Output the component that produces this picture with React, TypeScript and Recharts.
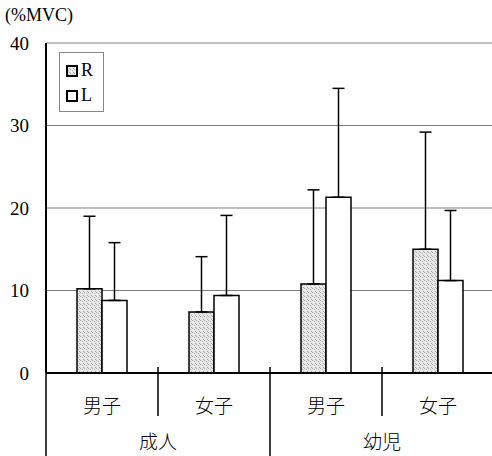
import React from 'react';
import { BarChart, Bar, XAxis, YAxis, CartesianGrid, ErrorBar } from 'recharts';

const categories = ['男子', '女子', '男子', '女子'];
const groups = ['成人', '成人', '幼児', '幼児'];
const rValues = [10.2, 7.4, 10.8, 15.0];
const lValues = [8.8, 9.4, 21.3, 11.2];
const rErrors = [8.8, 6.7, 11.4, 14.2];
const lErrors = [7.0, 9.7, 13.2, 8.5];
const yTicks = [0, 10, 20, 30, 40];
const seriesNames = ['R', 'L'];

const data = categories.map((name, i) => ({
  name: `${groups[i]}-${name}-${i}`,
  label: name,
  group: groups[i],
  R: rValues[i],
  L: lValues[i],
  rErr: [0, rErrors[i]],
  lErr: [0, lErrors[i]],
}));

const SERIF = 'Liberation Serif';
const CJK = 'Noto Sans CJK JP';

const CategoryTick = (props: any) => {
  const { x, y, payload, index } = props;
  const half = payload && payload.offset ? payload.offset : 55.9;
  const row = data[index];
  const lines = [];
  if (index === 0) {
    lines.push(<line key="l0" x1={x - half} y1={y} x2={x - half} y2={y + 84} stroke="#000" strokeWidth={1.5} />);
  }
  if (index % 2 === 0) {
    lines.push(<line key="s" x1={x + half} y1={y - 6} x2={x + half} y2={y + 43} stroke="#000" strokeWidth={1.5} />);
  } else if (index < data.length - 1) {
    lines.push(<line key="g" x1={x + half} y1={y - 6} x2={x + half} y2={y + 84} stroke="#000" strokeWidth={1.5} />);
  }
  return (
    <g>
      {lines}
      <text x={x} y={y + 31} textAnchor="middle" dominantBaseline="central" fontSize={19} fontFamily={CJK} fontWeight={300} fill="#000">
        {row.label}
      </text>
      {index % 2 === 0 && (
        <text x={x + half} y={y + 67} textAnchor="middle" dominantBaseline="central" fontSize={19} fontFamily={CJK} fontWeight={300} fill="#000">
          {row.group}
        </text>
      )}
    </g>
  );
};

const LegendBox = () => (
  <div
    style={{
      position: 'absolute',
      left: 59,
      top: 52,
      width: 45,
      height: 60,
      border: '1px solid #888',
      background: '#fff',
      fontFamily: SERIF,
      fontSize: 18,
      color: '#000',
      boxSizing: 'border-box',
      paddingLeft: 6,
      paddingTop: 5,
    }}
  >
    {seriesNames.map((name) => (
      <div key={name} style={{ display: 'flex', alignItems: 'center', height: 25 }}>
        <svg width={12} height={12} style={{ marginRight: 3 }}>
          <rect x={1} y={1} width={10} height={10} fill={name === 'R' ? 'url(#dots)' : '#fff'} stroke="#000" strokeWidth={2} />
        </svg>
        <span>{name}</span>
      </div>
    ))}
  </div>
);

const App: React.FC = () => {
  return (
    <div style={{ position: 'absolute', left: 0, top: 0, width: 492, height: 456, overflow: 'hidden', background: '#fff' }}>
      <svg width={0} height={0} style={{ position: 'absolute' }}>
        <defs>
          <pattern id="dots" width={4} height={4} patternUnits="userSpaceOnUse">
            <rect width={4} height={4} fill="#e6e6e6" />
            <rect x={0} y={0} width={1} height={1} fill="#a8a8a8" />
            <rect x={2} y={1} width={1} height={1} fill="#b4b4b4" />
            <rect x={1} y={2} width={1} height={1} fill="#fafafa" />
            <rect x={3} y={3} width={1} height={1} fill="#a8a8a8" />
          </pattern>
        </defs>
      </svg>
      <div style={{ position: 'absolute', left: 5, top: 5, fontFamily: SERIF, fontSize: 18, color: '#000' }}>
        (%MVC)
      </div>
      <BarChart
        width={494}
        height={456}
        data={data}
        margin={{ top: 43, right: 0, bottom: 0, left: 0 }}
        barSize={25}
        barGap={0}
      >
        <CartesianGrid vertical={false} stroke="#808080" strokeWidth={1} />
        <XAxis
          dataKey="name"
          height={83}
          tickLine={false}
          tickSize={0}
          tickMargin={0}
          axisLine={{ stroke: '#000', strokeWidth: 2 }}
          tick={<CategoryTick />}
          interval={0}
        />
        <YAxis
          width={46}
          domain={[0, 40]}
          ticks={yTicks}
          tickLine={false}
          tickSize={0}
          tickMargin={17}
          axisLine={{ stroke: '#000', strokeWidth: 2 }}
          tick={{ fill: '#000', fontSize: 19, fontFamily: SERIF }}
        />
        <Bar dataKey="R" fill="url(#dots)" stroke="#000" strokeWidth={1.5} isAnimationActive={false}>
          <ErrorBar dataKey="rErr" width={6} stroke="#000" strokeWidth={1.5} direction="y" />
        </Bar>
        <Bar dataKey="L" fill="#fff" stroke="#000" strokeWidth={1.5} isAnimationActive={false}>
          <ErrorBar dataKey="lErr" width={6} stroke="#000" strokeWidth={1.5} direction="y" />
        </Bar>
      </BarChart>
      <LegendBox />
    </div>
  );
};

export default App;
